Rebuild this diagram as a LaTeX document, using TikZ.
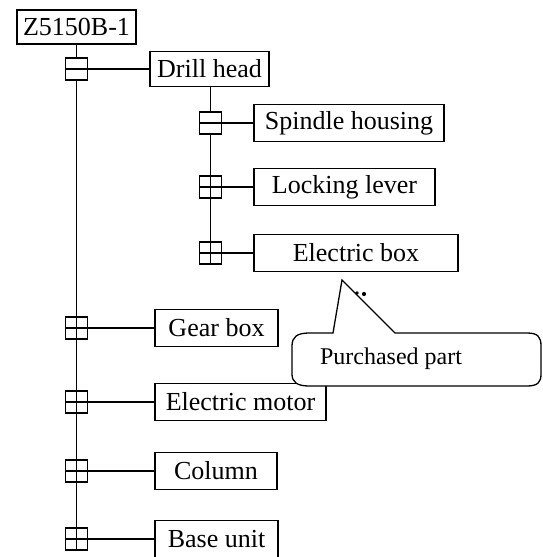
\documentclass[tikz,border=0pt]{standalone}
\usepackage{fontspec}
\setmainfont{Liberation Serif}
\usepackage{tikz}
\usetikzlibrary{positioning}

\tikzset{
  part/.style={draw, line width=1.3pt, inner sep=0pt, minimum height=37pt,
    font=\fontsize{26}{30}\selectfont},
  halfsym/.style={draw, line width=1.3pt, inner sep=0pt, minimum size=22pt,
    path picture={\draw[line width=1.3pt] (path picture bounding box.west) -- (path picture bounding box.east);}},
  fullsym/.style={draw, line width=1.3pt, inner sep=0pt, minimum size=22pt,
    path picture={\draw[line width=1.3pt] (path picture bounding box.west) -- (path picture bounding box.east)
      (path picture bounding box.north) -- (path picture bounding box.south);}},
  link/.style={line width=1.4pt}
}

\begin{document}
\begin{tikzpicture}[x=1pt, y=-1pt]
  \useasboundingbox (0,0) rectangle (543,557);
  % Baugruppe
  \node[part, minimum width=119pt, minimum height=34pt] (root) at (76.5,27) {Z5150B-1};
  % Symbole am Hauptstrang
  \node[halfsym] (s1) at (76.5,69) {};
  \node[fullsym] (s2) at (76.5,328) {};
  \node[fullsym] (s3) at (76.5,402) {};
  \node[fullsym] (s4) at (76.5,471) {};
  \node[fullsym] (s5) at (76.5,539) {};
  % Teile am Hauptstrang
  \node[part, minimum width=119pt, minimum height=35pt] (drill) at (209.5,69) {Drill head};
  \node[part, minimum width=123pt] (gear) at (216.5,328) {Gear box};
  \node[part, minimum width=171pt] (motor) at (240.5,402) {Electric motor};
  \node[part, minimum width=122pt] (column) at (216,471) {Column};
  \node[part, minimum width=123pt] (base) at (216.5,539) {Base unit};
  % Unterbaugruppe Bohrkopf
  \node[halfsym] (s11) at (210.5,123) {};
  \node[fullsym] (s12) at (210.5,187) {};
  \node[fullsym] (s13) at (210.5,253) {};
  \node[part, minimum width=190pt] (spindle) at (349,123) {Spindle housing};
  \node[part, minimum width=181pt] (lever) at (344.5,187) {Locking lever};
  \node[part, minimum width=204pt] (ebox) at (356,253) {Electric box};
  % Linien
  \draw[link] (root) -- (s1) (s1) -- (s2) (s2) -- (s3) (s3) -- (s4) (s4) -- (s5);
  \draw[link] (s1) -- (drill) (s2) -- (gear) (s3) -- (motor) (s4) -- (column) (s5) -- (base);
  \draw[link] (s11 |- drill.south) -- (s11) (s11) -- (s12) (s12) -- (s13);
  \draw[link] (s11) -- (spindle) (s12) -- (lever) (s13) -- (ebox);
  % Sprechblase
  \draw[line width=1.3pt, fill=white] (333,333) -- (342,280) -- (395,333) -- (527,333)
    .. controls (538,333) and (541,337) .. (541,346) -- (541,374)
    .. controls (541,382) and (538,386) .. (527,386) -- (309,386)
    .. controls (297,386) and (292,382) .. (292,374) -- (292,346)
    .. controls (292,337) and (297,333) .. (309,333) -- cycle;
  \node[font=\fontsize{24}{28}\selectfont] (note) at (391,359) {Purchased part};
  \fill (357,293) circle (1.8pt) (364,294) circle (2.1pt);
\end{tikzpicture}
\end{document}
